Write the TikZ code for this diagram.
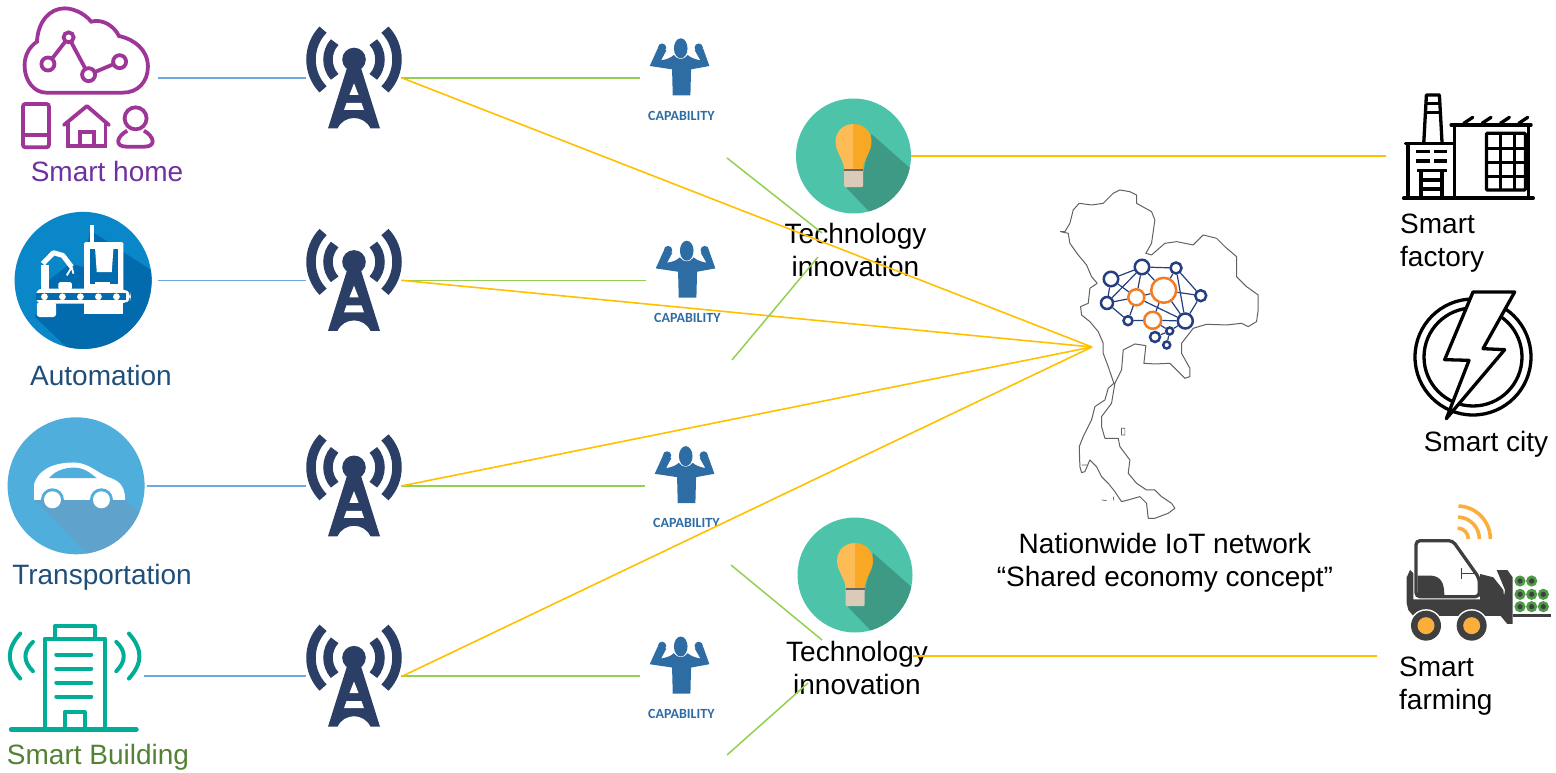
\documentclass[tikz,border=0pt]{standalone}
\usepackage{fontspec}
\setmainfont{Liberation Sans}
\newfontfamily\capfont{Carlito}
\usepackage{tikz}
\usetikzlibrary{positioning}
\definecolor{wireblue}{HTML}{6FA8DC}
\definecolor{wiregreen}{HTML}{92D050}
\definecolor{wiregold}{HTML}{FFC000}
\definecolor{towerblue}{HTML}{2B3F66}
\definecolor{capblue}{HTML}{2E6CA4}
\definecolor{homepurple}{HTML}{9E3698}
\definecolor{textpurple}{HTML}{7030A0}
\definecolor{textblue}{HTML}{1F4E79}
\definecolor{textgreen}{HTML}{548235}
\definecolor{autoblue}{HTML}{0A87C8}
\definecolor{autoshade}{HTML}{016BAE}
\definecolor{carblue}{HTML}{4FAEDC}
\definecolor{carshade}{HTML}{5FA3CC}
\definecolor{bldgteal}{HTML}{00AE98}
\definecolor{bulbteal}{HTML}{4DC4AA}
\definecolor{bulbshade}{HTML}{3F9A85}
\definecolor{bulblight}{HTML}{FDBB55}
\definecolor{bulbdark}{HTML}{F9A825}
\definecolor{bulbbase}{HTML}{D9CBB8}
\definecolor{netnavy}{HTML}{253E80}
\definecolor{netorange}{HTML}{F47B20}
\definecolor{truckgrey}{HTML}{403F3F}
\definecolor{truckgold}{HTML}{FBAE3C}
\definecolor{crate}{HTML}{4E9A47}
\tikzset{
	zm/.style 2 args={x=.3333pt,y=-.3333pt,shift={(-#1,-#2)}},
	pics/tower/.style={code={
		\fill[towerblue] (0,-18.5) circle (11.8pt);
		\fill[towerblue] (-26,50.5) -- (-7,-10) -- (7,-10) -- (26,50.5) -- (16.5,50.5)
			.. controls (10,36.5) and (-10,36.5) .. (-16.5,50.5) -- cycle;
		\fill[white] (0,5.3) -- (4.6,17) -- (-4.6,17) -- cycle;
		\fill[white] (-7.5,25) -- (7.5,25) -- (10,32) -- (-10,32) -- cycle;
		\foreach \r/\a in {43/44,26/42} {
			\draw[towerblue,line width=9.5pt] (0,-18.5) ++(180-\a:\r pt) arc[start angle=180-\a,end angle=180+\a,radius=\r pt];
			\draw[towerblue,line width=9.5pt] (0,-18.5) ++(\a:\r pt) arc[start angle=\a,end angle=-\a,radius=\r pt];
		}
	}},
	pics/capfig/.style={code={
		\begin{scope}[zm={123}{141}]
			\fill[capblue] (65,50) circle (4.2pt) (175,50) circle (4.2pt);
			\fill[capblue] (28,105) -- (52,52) -- (78,58) -- (62,88) .. controls (80,85) and (92,80) .. (100,72)
				.. controls (112,88) and (130,88) .. (142,72) .. controls (150,80) and (165,85) .. (180,88)
				-- (163,58) -- (188,52) -- (207,105) -- (152,115) -- (150,193) -- (97,193) -- (95,115) -- cycle;
			\fill[capblue] (121,52) ellipse (6.8pt and 10pt);
		\end{scope}
	}},
	pics/bulb/.style={code={
		\begin{scope}
			\clip (0,0) circle (57.5pt);
			\fill[bulbshade] (18,-22) -- (70,24) -- (70,70) -- (20,60) -- (-7,32) -- (9,20) -- cycle;
		\end{scope}
		\fill[bulblight] (0,-32) .. controls (-11,-32) and (-18,-24) .. (-18,-14) .. controls (-18,-4) and (-9.5,4) .. (-9.5,13) -- (0,13) -- cycle;
		\fill[bulbdark] (0,-32) .. controls (11,-32) and (18,-24) .. (18,-14) .. controls (18,-4) and (9.5,4) .. (9.5,13) -- (0,13) -- cycle;
		\fill[bulbbase,rounded corners=1pt] (-9.5,13) rectangle (9.5,31);
		\fill[black!60] (-9.5,13) rectangle (9.5,15);
	}},
	pics/homeicon/.style={code={
		\begin{scope}[zm={270}{234},homepurple,line width=3.8pt]
			\draw (140,278) -- (370,278) .. controls (415,278) and (445,245) .. (445,200) .. controls (445,150) and (405,118) .. (358,108)
				.. controls (345,80) and (310,55) .. (275,65) .. controls (250,35) and (215,25) .. (195,25)
				.. controls (150,25) and (115,65) .. (112,125) .. controls (90,140) and (75,165) .. (75,195)
				.. controls (75,245) and (105,278) .. (140,278) -- cycle;
			\draw (207,112) -- (145,192) (207,112) -- (267,224) -- (360,185);
			\draw[fill=white] (207,112) circle (5pt) (145,192) circle (6.5pt) (267,224) circle (6.5pt) (360,185) circle (6.5pt);
			\draw[rounded corners=2.5pt] (70,312) rectangle (148,442);
			\draw (70,405) -- (148,405);
			\draw[line join=round,line cap=round] (193,375) -- (262,318) -- (328,375);
			\draw (205,365) -- (205,438) -- (318,438) -- (318,365);
			\draw (240,438) -- (240,395) -- (282,395) -- (282,438);
			\draw (408,355) circle (11pt);
			\draw (383,392) .. controls (350,410) and (345,440) .. (380,440) -- (435,440) .. controls (470,440) and (465,410) .. (433,392);
		\end{scope}
	}},
	pics/autoicon/.style={code={
		\begin{scope}
			\clip (0,0) circle (68.5pt);
			\begin{scope}[zm={249}{840}]
				\fill[autoshade] (270,690) -- (470,820) -- (470,1060) -- (220,1060) -- (105,950) -- (120,860) -- (210,790) -- (250,800) -- cycle;
			\end{scope}
		\end{scope}
		\begin{scope}[zm={159}{180},white]
			\fill (180,15) rectangle (192,65);
			\fill[rounded corners=1.5pt] (162,65) rectangle (280,210);
			\fill[autoshade] (180,85) rectangle (265,190);
			\fill (195,85) -- (250,85) -- (245,155) -- (200,155) -- cycle;
			\fill (195,185) rectangle (240,208);
			\fill[rounded corners=1.5pt] (85,185) rectangle (125,208);
			\draw[line width=8pt] (45,208) -- (45,135);
			\draw[line width=5pt,line join=round] (38,130) -- (70,97) -- (98,105) -- (125,140);
			\draw[line width=1.8pt] (125,140) -- (110,165) (125,140) -- (130,160);
			\fill[rounded corners=6pt] (18,205) -- (285,205) -- (302,222) -- (302,235) -- (285,250) -- (18,250) -- cycle;
			\fill[autoshade] (18,218) rectangle (288,240);
			\foreach \x in {43,97,151,205,259} \fill (\x,229) circle (3.4pt);
			\fill (162,245) rectangle (280,280);
			\fill[rounded corners=3pt] (20,245) rectangle (78,290);
		\end{scope}
	}},
	pics/caricon/.style={code={
		\begin{scope}
			\clip (0,0) circle (68.5pt);
			\begin{scope}[zm={231}{255}]
				\fill[carshade] (105,295) -- (375,295) -- (450,360) -- (450,480) -- (285,480) -- cycle;
			\end{scope}
		\end{scope}
		\begin{scope}[zm={231}{255}]
			\fill[white] (105,297) -- (105,250) .. controls (115,215) and (150,185) .. (225,185) .. controls (265,185) and (295,215) .. (325,228)
				.. controls (355,238) and (378,250) .. (378,297) -- cycle;
			\fill[carblue] (150,232) .. controls (170,205) and (215,195) .. (245,203) .. controls (265,208) and (280,222) .. (293,232) -- cycle;
			\begin{scope}
				\clip (105,250) rectangle (378,297);
				\fill[carblue] (160,297) circle (11.5pt) (307,297) circle (11.5pt);
			\end{scope}
			\fill[white] (160,297) circle (8.5pt) (307,297) circle (8.5pt);
		\end{scope}
	}},
	pics/bldgicon/.style={code={
		\begin{scope}[zm={225}{825},bldgteal,line width=4pt,line cap=round,line join=round]
			\draw (165,708) -- (165,675) -- (285,675) -- (285,708);
			\draw (135,985) -- (135,712) -- (315,712) -- (315,985);
			\foreach \y in {760,802,844,886} \draw (170,\y) -- (275,\y);
			\draw (195,985) -- (195,933) -- (255,933) -- (255,985);
			\draw[line width=5pt] (35,985) -- (410,985);
			\draw (62,697) .. controls (20,745) and (20,785) .. (62,832);
			\draw (100,722) .. controls (70,750) and (70,780) .. (100,810);
			\draw (388,697) .. controls (430,745) and (430,785) .. (388,832);
			\draw (350,722) .. controls (380,750) and (380,780) .. (350,810);
		\end{scope}
	}},
	pics/factoryicon/.style={code={
		\begin{scope}[zm={240}{228},black,line width=3.3pt]
			\draw[line width=3.8pt,line cap=round] (70,355) -- (458,355);
			\draw (83,355) -- (83,190);
			\draw[line cap=round] (75,190) -- (222,190);
			\draw[line join=round] (130,190) -- (138,45) -- (177,45) -- (185,190);
			\draw (137,70) -- (178,70) (135,98) -- (180,98);
			\draw (108,215) -- (150,215) (160,215) -- (200,215) (108,243) -- (150,243) (160,243) -- (200,243);
			\draw (110,272) -- (200,272) (122,272) -- (122,355) (185,272) -- (185,355) (122,300) -- (185,300) (122,327) -- (185,327);
			\draw (222,355) -- (222,135) (445,135) -- (445,355);
			\draw[line cap=round] (212,135) -- (452,135);
			\foreach \x in {250,305,360,415} \draw[line cap=round] (\x,130) -- (\x+27,112);
			\draw[rounded corners=1pt] (318,160) rectangle (435,330);
			\draw (360,160) -- (360,330) (403,160) -- (403,330) (318,205) -- (435,205) (318,248) -- (435,248) (318,290) -- (435,290);
		\end{scope}
	}},
	pics/bolticon/.style={code={
		\begin{scope}[zm={280}{830},black,line width=3.3pt]
			\draw (280,830) circle (58pt);
			\draw (280,830) circle (49pt);
			\draw[fill=white,line join=round] (280,635) -- (405,635) -- (310,805) -- (375,808) -- (200,1015) -- (268,840) -- (195,838) -- cycle;
		\end{scope}
	}},
	pics/farmicon/.style={code={
		\begin{scope}[zm={294}{240}]
			\fill[truckgrey] (80,262) -- (90,240) -- (100,250) -- (100,328) -- (300,328) -- (300,252) -- (340,262) -- (370,300) -- (378,378) -- (100,378) -- (85,360) -- (80,340) -- cycle;
			\fill[truckgrey] (350,240) -- (382,240) -- (398,262) -- (398,402) -- (382,402) -- (362,378) -- (375,300) -- cycle;
			\fill[truckgrey] (398,372) rectangle (512,382);
			\draw[truckgrey,line width=3.3pt,rounded corners=4pt] (108,320) -- (108,152) -- (218,152) -- (298,265) -- (298,320) -- cycle;
			\fill[truckgrey] (113,257) -- (155,257) .. controls (180,260) and (193,275) .. (193,315) -- (113,315) -- cycle;
			\draw[truckgrey,line width=1.2pt] (245,235) -- (245,268) (245,250) -- (292,250);
			\foreach \x in {138,275} {
				\fill[white] (\x,407) circle (16.5pt);
				\fill[truckgrey] (\x,407) circle (15pt);
				\fill[truckgold] (\x,407) circle (8.5pt);
			}
			\foreach \x/\y in {420/273,455/273,420/313,455/313,490/313,420/350,455/350,490/350} {
				\fill[crate] (\x,\y) circle (5.6pt);
				\fill[truckgrey] (\x,\y) circle (2.6pt);
			}
			\foreach \r in {11,22,33} \draw[truckgold,line width=3.6pt] (232,147) ++(88:\r pt) arc[start angle=88,end angle=0,radius=\r pt];
		\end{scope}
	}}
}
\begin{document}
\begin{tikzpicture}[x=1pt,y=-1pt]
	\tikzstyle{twr}=[minimum width=96pt,minimum height=102pt,inner sep=0pt]
	\tikzstyle{capnode}=[minimum width=82pt,minimum height=58pt,inner sep=0pt]
	\tikzstyle{caplabel}=[font=\capfont\bfseries\fontsize{14}{16}\selectfont,text=capblue,inner sep=0pt]
	\tikzstyle{icon}=[inner sep=0pt]
	\tikzstyle{disc}=[circle,inner sep=0pt]
	\tikzstyle{label}=[font=\fontsize{28}{33}\selectfont,align=center,inner sep=0pt]
	\tikzstyle{blueline}=[wireblue,line width=1.6pt]
	\tikzstyle{greenline}=[wiregreen,line width=1.5pt]
	\tikzstyle{goldline}=[wiregold,line width=1.6pt]
	\tikzstyle{netn}=[circle,fill=white,inner sep=0pt,line width=2.5pt]
	\useasboundingbox (0,0) rectangle (1556,773);
		% towers
		\node[twr] (t1) at (354,78) {};
		\node[twr, below=100pt of t1] (t2) {};
		\node[twr, below=103pt of t2] (t3) {};
		\node[twr, below=88pt of t3] (t4) {};
		\foreach \t in {t1,t2,t3,t4} \pic at (\t) {tower};
		% left column
		\node[icon, minimum width=136pt, minimum height=140pt, left=148pt of t1] (home) {};
		\node[disc, fill=autoblue, minimum size=137pt, left=154pt of t2] (autom) {};
		\node[disc, fill=carblue, minimum size=137pt, left=161pt of t3] (transp) {};
		\node[icon, minimum width=138pt, minimum height=108pt, left=162pt of t4] (bldg) {};
		\pic at (home) {homeicon};
		\pic at (autom) {autoicon};
		\pic at (transp) {caricon};
		\pic at (bldg) {bldgicon};
		\node[label, text=textpurple] (homel) at (107,171) {Smart home};
		\node[label, text=textblue] (automl) at (101,375) {Automation};
		\node[label, text=textblue] (transpl) at (102,577) {Transportation};
		\node[label, text=textgreen] (bldgl) at (98,757) {Smart Building};
		% capability
		\node[capnode, right=238pt of t1] (c1) {};
		\node[capnode, right=244pt of t2] (c2) {};
		\node[capnode, right=243pt of t3] (c3) {};
		\node[capnode, right=238pt of t4] (c4) {};
		\foreach \c in {c1,c2,c3,c4} {
			\pic at (\c) {capfig};
			\node[caplabel, below=3.5pt of \c] (\c l) {CAPABILITY};
		}
		% technology
		\node[disc, fill=bulbteal, minimum size=115pt] (bulb1) at (853.5,156) {};
		\node[disc, fill=bulbteal, minimum size=115pt] (bulb2) at (855,575) {};
		\pic at (bulb1) {bulb};
		\pic at (bulb2) {bulb};
		\node[label, below=9pt of bulb1, xshift=2pt] (tech1) {Technology\\innovation};
		\node[label, below=8pt of bulb2, xshift=2pt] (tech2) {Technology\\innovation};
		% right column
		\node[icon, minimum width=148pt, minimum height=122pt, right=475pt of bulb1] (factory) {};
		\node[icon, minimum size=120pt] (city) at (1473,357) {};
		\node[icon, minimum width=144pt, minimum height=134pt] (farm) at (1478,570) {};
		\pic at (factory) {factoryicon};
		\pic at (city) {bolticon};
		\pic at (farm) {farmicon};
		\node[label, align=left, anchor=west] (factoryl) at (1400,243) {Smart\\factory};
		\node[label] (cityl) at (1486,444) {Smart city};
		\node[label, align=left, anchor=west] (farml) at (1399,686) {Smart\\farming};
		% map
		\node[icon, minimum width=190pt, minimum height=330pt] (thai) at (1165,355) {};
		\begin{scope}[zm={-3120}{-540}]
			\draw[black!62,line width=1pt,line join=round] (62,155) -- (85,160) -- (90,190) -- (115,225) -- (140,255) -- (155,290) -- (172,310) -- (150,325) -- (145,370) -- (122,380) -- (125,405) -- (150,425) -- (175,455) -- (190,490) -- (190,520) -- (205,560) -- (222,610) -- (205,625) -- (195,660) -- (165,680) -- (155,720) -- (130,770) -- (118,800) -- (120,860) -- (125,878) -- (135,875) -- (150,840) -- (170,860) -- (185,890) -- (205,910) -- (225,935) -- (245,965) -- (265,960) -- (300,950) -- (320,970) -- (325,1015) -- (345,1015) -- (385,1000) -- (405,985) -- (395,970) -- (365,950) -- (345,930) -- (320,930) -- (290,910) -- (265,880) -- (270,840) -- (240,800) -- (235,775) -- (195,775) -- (185,740) -- (185,710) -- (215,670) -- (225,610) -- (245,570) -- (250,510) -- (285,492) -- (318,497) -- (312,550) -- (345,552) -- (390,550) -- (420,580) -- (435,595) -- (450,590) -- (450,565) -- (425,520) -- (425,490) -- (460,445) -- (500,433) -- (560,435) -- (605,430) -- (625,440) -- (650,425) -- (655,390) -- (655,345) -- (620,320) -- (590,290) -- (590,230) -- (555,200) -- (530,175) -- (490,165) -- (460,195) -- (410,185) -- (375,190) -- (335,225) -- (318,220) -- (335,190) -- (345,120) -- (335,95) -- (290,70) -- (290,45) -- (270,35) -- (240,30) -- (220,40) -- (190,70) -- (155,75) -- (118,70) -- (100,90) -- (90,130) -- (75,155) -- cycle;
			\draw[black!62,line width=.7pt] (245,745) rectangle (255,765) (185,960) -- (200,962) (220,950) -- (222,962) (125,855) -- (145,855);
		\end{scope}
		\foreach \n/\x/\y/\d in {n1/1111/279/14.5,n2/1142/267/14.5,n3/1176/268/11,n4/1200.7/295.7/11,n5/1107/303/12,n6/1128/320.7/9,n7/1185.3/321/15,n8/1155/337/10,n9/1169.7/331/7,n10/1166.7/345/7}
			\node[netn, draw=netnavy, minimum size=\d pt] (\n) at (\x,\y) {};
		\foreach \n/\x/\y/\d in {o1/1136.3/297.3/16,o2/1163.7/290.3/25,o3/1152.7/320.3/17}
			\node[netn, draw=netorange, minimum size=\d pt] (\n) at (\x,\y) {};
		\foreach \a/\b in {n1/n2,n2/n3,n1/n5,n5/n2,n1/o1,n5/o1,n5/n6,n6/o1,n6/o3,n2/o1,n2/o2,n3/o2,n3/n7,n3/n4,o2/n4,n4/n7,o2/n7,o1/o2,o1/n7,o3/n7,o2/o3,o3/n9,n7/n9,n8/n9,n9/n10}
			\draw[netnavy,line width=1.2pt] (\a) -- (\b);
		\node[label] (nation) at (1165,563) {Nationwide IoT network\\“Shared economy concept”};
		% free ends
		\coordinate (hub) at (1092,347);
		\coordinate (farmend) at (1377,656);
		\coordinate (g1a) at (727,158);
		\coordinate (g1b) at (822,233);
		\coordinate (g2a) at (732,360);
		\coordinate (g2b) at (818,257);
		\coordinate (g3a) at (731,565);
		\coordinate (g3b) at (822,640);
		\coordinate (g4a) at (727,755);
		\coordinate (g4b) at (808,683);
		% connectors
		\draw[blueline] (home) -- (t1);
		\draw[blueline, shorten <=6pt] (autom) -- (t2);
		\draw[blueline, shorten <=2pt] (transp) -- (t3);
		\draw[blueline] (bldg) -- (t4);
		\foreach \t/\c in {t1/c1,t2/c2,t3/c3,t4/c4} {
			\draw[greenline, shorten <=-1pt] (\t.east) -- (\c.west);
			\draw[goldline, shorten <=-1pt] (\t.east) -- (hub);
		}
		\foreach \a/\b in {g1a/g1b,g2a/g2b,g3a/g3b,g4a/g4b}
			\draw[greenline] (\a) -- (\b);
		\draw[goldline] (bulb1.east) -- (factory.west);
		\draw[goldline] (bulb2.east |- farmend) -- (farmend);
\end{tikzpicture}
\end{document}
